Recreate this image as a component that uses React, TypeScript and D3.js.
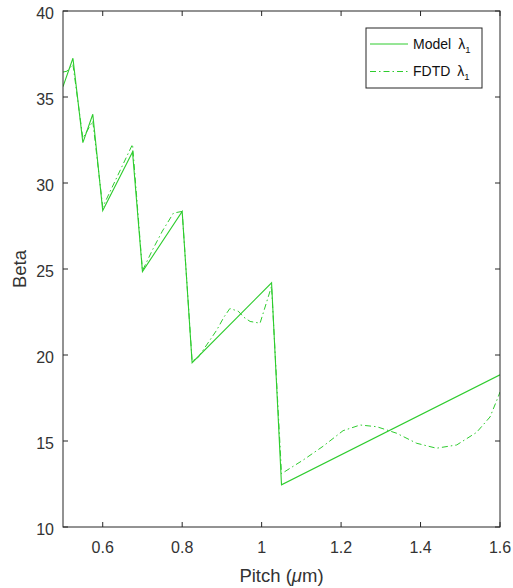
import React from "react";
import * as d3 from "d3";

// Model curve (pitch in µm, beta)
const modelPitch = [0.5, 0.525, 0.55, 0.575, 0.6, 0.675, 0.7, 0.8, 0.825, 1.025, 1.05, 1.6];
const modelBeta = [35.6, 37.25, 32.35, 34.0, 28.4, 31.8, 24.85, 28.35, 19.55, 24.2, 12.45, 18.85];

// FDTD curve (pitch in µm, beta)
const fdtdPitch = [
  0.5, 0.51, 0.525, 0.55, 0.575, 0.6, 0.675, 0.7, 0.725, 0.75, 0.778, 0.8, 0.825, 0.84, 0.865,
  0.887, 0.905, 0.92, 0.941, 0.955, 0.971, 0.996, 1.025, 1.05, 1.105, 1.155, 1.205, 1.248, 1.29,
  1.34, 1.39, 1.44, 1.491, 1.541, 1.575, 1.596, 1.6,
];
const fdtdBeta = [
  36.45, 36.5, 36.9, 32.6, 33.6, 28.6, 32.25, 24.9, 26.1, 27.2, 28.25, 28.35, 19.65, 19.85, 20.7,
  21.45, 22.2, 22.7, 22.55, 22.2, 21.95, 21.85, 24.0, 13.1, 13.9, 14.7, 15.6, 15.93, 15.83,
  15.45, 14.87, 14.58, 14.77, 15.5, 16.4, 17.6, 17.85,
];

const xTicks = [0.6, 0.8, 1.0, 1.2, 1.4, 1.6];
const yTicks = [10, 15, 20, 25, 30, 35, 40];

const W = 513;
const H = 588;
const M = { left: 63, right: 13, top: 11, bottom: 61 };
const AXIS = "#262626";
const LABEL = "#333";
const GREEN = "#2ecc2e";
const FONT = "'Liberation Sans', Arial, Helvetica, sans-serif";

export default function App() {
  const x = d3.scaleLinear().domain([0.5, 1.6]).range([M.left, W - M.right]);
  const y = d3.scaleLinear().domain([10, 40]).range([H - M.bottom, M.top]);

  const line = d3
    .line<[number, number]>()
    .x((d) => x(d[0]))
    .y((d) => y(d[1]));

  const modelPts = modelPitch.map((p, i) => [p, modelBeta[i]] as [number, number]);
  const fdtdPts = fdtdPitch.map((p, i) => [p, fdtdBeta[i]] as [number, number]);

  const x0 = x(0.5);
  const x1 = x(1.6);
  const y0 = y(10);
  const y1 = y(40);
  const tl = 5;

  const fmtX = (v: number) => (Math.abs(v - 1) < 1e-9 ? "1" : d3.format(".1f")(v));

  // legend geometry
  const lg = { x: 366, y: 28, w: 116, h: 60 };
  const rows = [
    { label: "Model", dash: undefined as string | undefined, cy: 44 },
    { label: "FDTD", dash: "6,3,1.5,3", cy: 71.5 },
  ];

  return (
    <svg
      width={W}
      height={H}
      style={{ position: "absolute", left: 0, top: 0, background: "#fff" }}
      fontFamily={FONT}
    >
      <rect x={0} y={0} width={W} height={H} fill="#fff" />

      <defs>
        <clipPath id="plot-clip">
          <rect x={x0} y={y1} width={x1 - x0} height={y0 - y1} />
        </clipPath>
      </defs>

      <g clipPath="url(#plot-clip)">
        <path d={line(fdtdPts) ?? ""} fill="none" stroke={GREEN} strokeWidth={1} strokeDasharray="6,3,1.5,3" />
        <path d={line(modelPts) ?? ""} fill="none" stroke={GREEN} strokeWidth={1.1} />
      </g>

      {/* axes box */}
      <rect x={x0} y={y1} width={x1 - x0} height={y0 - y1} fill="none" stroke={AXIS} strokeWidth={1} />

      {/* x ticks */}
      {xTicks.map((t) => (
        <g key={"x" + t}>
          <line x1={x(t)} x2={x(t)} y1={y0} y2={y0 - tl} stroke={AXIS} />
          <line x1={x(t)} x2={x(t)} y1={y1} y2={y1 + tl} stroke={AXIS} />
          <text x={x(t)} y={553} textAnchor="middle" fontSize={16} fill={LABEL}>
            {fmtX(t)}
          </text>
        </g>
      ))}

      {/* y ticks */}
      {yTicks.map((t) => (
        <g key={"y" + t}>
          <line x1={x0} x2={x0 + tl} y1={y(t)} y2={y(t)} stroke={AXIS} />
          <line x1={x1} x2={x1 - tl} y1={y(t)} y2={y(t)} stroke={AXIS} />
          <text x={x0 - 9} y={y(t) + 2} dy="0.35em" textAnchor="end" fontSize={16} fill={LABEL}>
            {t}
          </text>
        </g>
      ))}

      {/* axis titles */}
      <text x={(x0 + x1) / 2} y={582} textAnchor="middle" fontSize={18.5} fill={LABEL}>
        Pitch (<tspan fontStyle="italic">μ</tspan>m)
      </text>
      <text
        transform={`translate(${26},${(y0 + y1) / 2}) rotate(-90)`}
        textAnchor="middle"
        fontSize={18.5}
        fill={LABEL}
      >
        Beta
      </text>

      {/* legend */}
      <rect x={lg.x} y={lg.y} width={lg.w} height={lg.h} fill="#fff" stroke={AXIS} strokeWidth={1} />
      {rows.map((r) => (
        <g key={r.label}>
          <line x1={370} x2={408} y1={r.cy} y2={r.cy} stroke={GREEN} strokeWidth={1} strokeDasharray={r.dash} />
          <text x={413} y={r.cy} dy="0.35em" fontSize={14} fill="#111">
            {r.label}
            <tspan dx={7}>λ</tspan>
            <tspan fontSize={9.5} dy={4}>1</tspan>
          </text>
        </g>
      ))}
    </svg>
  );
}
